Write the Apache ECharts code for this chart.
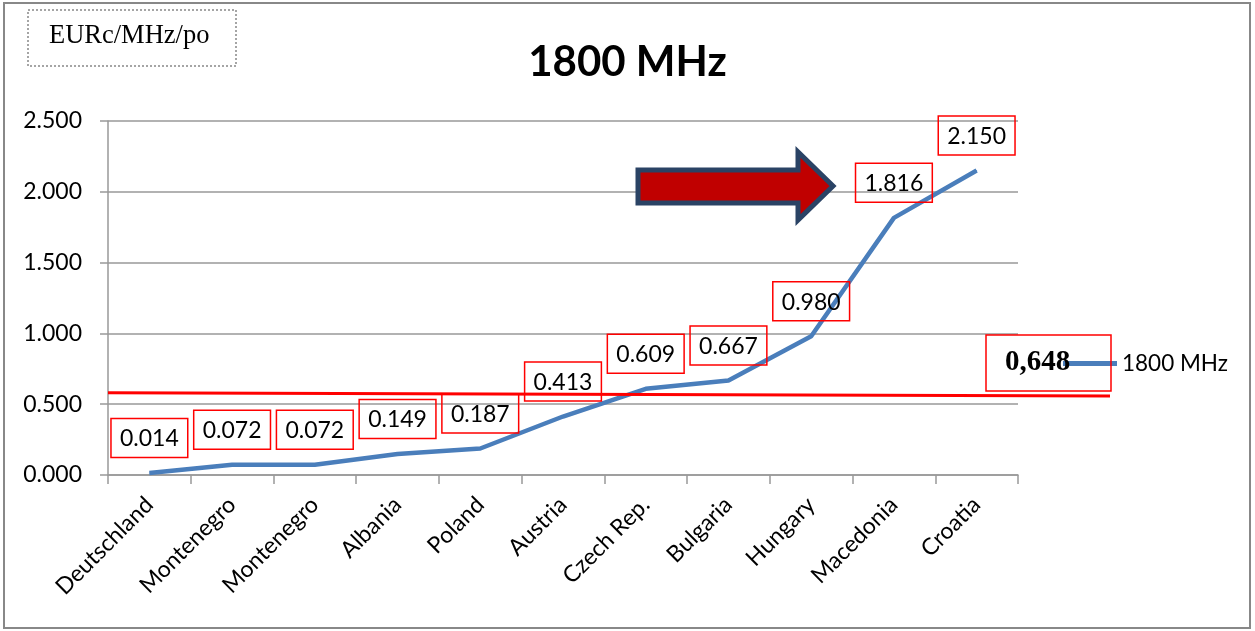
<!DOCTYPE html>
<html>
<head>
<meta charset="utf-8">
<script src="https://cdn.jsdelivr.net/npm/echarts@6/dist/echarts.min.js"></script>
<style>
  html, body { margin: 0; padding: 0; background: #fff; }
  #main { width: 1255px; height: 631px; }
</style>
</head>
<body>
<div id="main"></div>
<script>
var countries = ['Deutschland', 'Montenegro', 'Montenegro', 'Albania', 'Poland', 'Austria',
    'Czech Rep.', 'Bulgaria', 'Hungary', 'Macedonia', 'Croatia'];
var prices = [0.014, 0.072, 0.072, 0.149, 0.187, 0.413, 0.609, 0.667, 0.980, 1.816, 2.150];
var yTicks = { min: 0, max: 2.5, interval: 0.5 };
// red reference line drawn by hand in the original (slightly sloping), and the boxed average
var refLine = [0.58, 0.558];
var averageText = '0,648';

var font = 'Lato, "Liberation Sans", sans-serif';

var option = {
    backgroundColor: '#fff',
    animation: false,
    title: {
        text: '1800 MHz',
        left: 'center',
        top: 36,
        textStyle: { fontFamily: font, fontSize: 42, fontWeight: 'bold', color: '#000' }
    },
    legend: {
        left: 1058,
        top: 347,
        itemWidth: 54,
        itemHeight: 5,
        itemGap: 6,
        textStyle: { fontFamily: font, fontSize: 22.5, color: '#000' },
        data: [{ name: '1800 MHz', icon: 'rect' }]
    },
    grid: { left: 108, right: 237, top: 121, bottom: 156 },
    xAxis: {
        type: 'category',
        data: countries,
        boundaryGap: true,
        axisLine: { lineStyle: { color: '#999', width: 1.5 } },
        axisTick: { show: true, length: 9, lineStyle: { color: '#999', width: 1.5 } },
        axisLabel: {
            interval: 0,
            rotate: 45,
            margin: 26,
            fontFamily: font,
            fontSize: 23,
            color: '#000'
        }
    },
    yAxis: {
        type: 'value',
        min: yTicks.min,
        max: yTicks.max,
        interval: yTicks.interval,
        axisLine: { show: true, lineStyle: { color: '#999', width: 1.5 } },
        axisTick: { show: true, length: 8, lineStyle: { color: '#999', width: 1.5 } },
        splitLine: { lineStyle: { color: '#999', width: 1.5 } },
        axisLabel: {
            margin: 26,
            fontFamily: font,
            fontSize: 23,
            color: '#000',
            formatter: function (v) { return v.toFixed(3); }
        }
    },
    series: [
        {
            name: '1800 MHz',
            type: 'line',
            data: prices,
            symbol: 'circle',
            symbolSize: 1,
            lineStyle: { color: '#4a7ebb', width: 4.5 },
            itemStyle: { color: '#4a7ebb' },
            label: {
                show: true,
                position: 'top',
                distance: 15,
                fontFamily: font,
                fontSize: 23,
                color: '#000',
                borderColor: '#ff0000',
                borderWidth: 1.5,
                padding: [9, 9, 7, 9],
                formatter: function (p) { return p.value.toFixed(3); }
            }
        }
    ]
};

var myChart = echarts.init(document.getElementById('main'));
myChart.setOption(option);

// annotations drawn over the chart
var yA = myChart.convertToPixel({ yAxisIndex: 0 }, refLine[0]);
var yB = myChart.convertToPixel({ yAxisIndex: 0 }, refLine[1]);
myChart.setOption({
    graphic: [
        {
            type: 'rect',
            shape: { x: 4, y: 3, width: 1246, height: 625 },
            style: { fill: 'none', stroke: '#888', lineWidth: 2 },
            silent: true
        },
        {
            type: 'rect',
            shape: { x: 28, y: 10, width: 208, height: 56 },
            style: { fill: 'none', stroke: '#888', lineWidth: 1.5, lineDash: [2, 2] }
        },
        {
            type: 'text',
            left: 49,
            top: 23,
            style: { text: 'EURc/MHz/po', font: '26.5px "Liberation Serif", "DejaVu Serif", serif', fill: '#000' }
        },
        {
            type: 'line',
            shape: { x1: 108, y1: yA, x2: 1110, y2: yB },
            style: { stroke: '#ff0000', lineWidth: 3 },
            z: 10
        },
        {
            type: 'polygon',
            shape: { points: [[638, 170], [798, 170], [798, 152], [833, 186], [798, 220], [798, 203], [638, 203]] },
            style: { fill: '#c00000', stroke: '#2a4365', lineWidth: 5, lineJoin: 'miter' },
            z: 10
        },
        {
            type: 'rect',
            shape: { x: 986, y: 335, width: 125, height: 56 },
            style: { fill: 'none', stroke: '#ff0000', lineWidth: 1.5 },
            z: 10
        },
        {
            type: 'text',
            left: 1005,
            top: 348,
            style: { text: averageText, font: 'bold 29px "Liberation Serif", "DejaVu Serif", serif', fill: '#000' },
            z: 5
        }
    ]
});
</script>
</body>
</html>
